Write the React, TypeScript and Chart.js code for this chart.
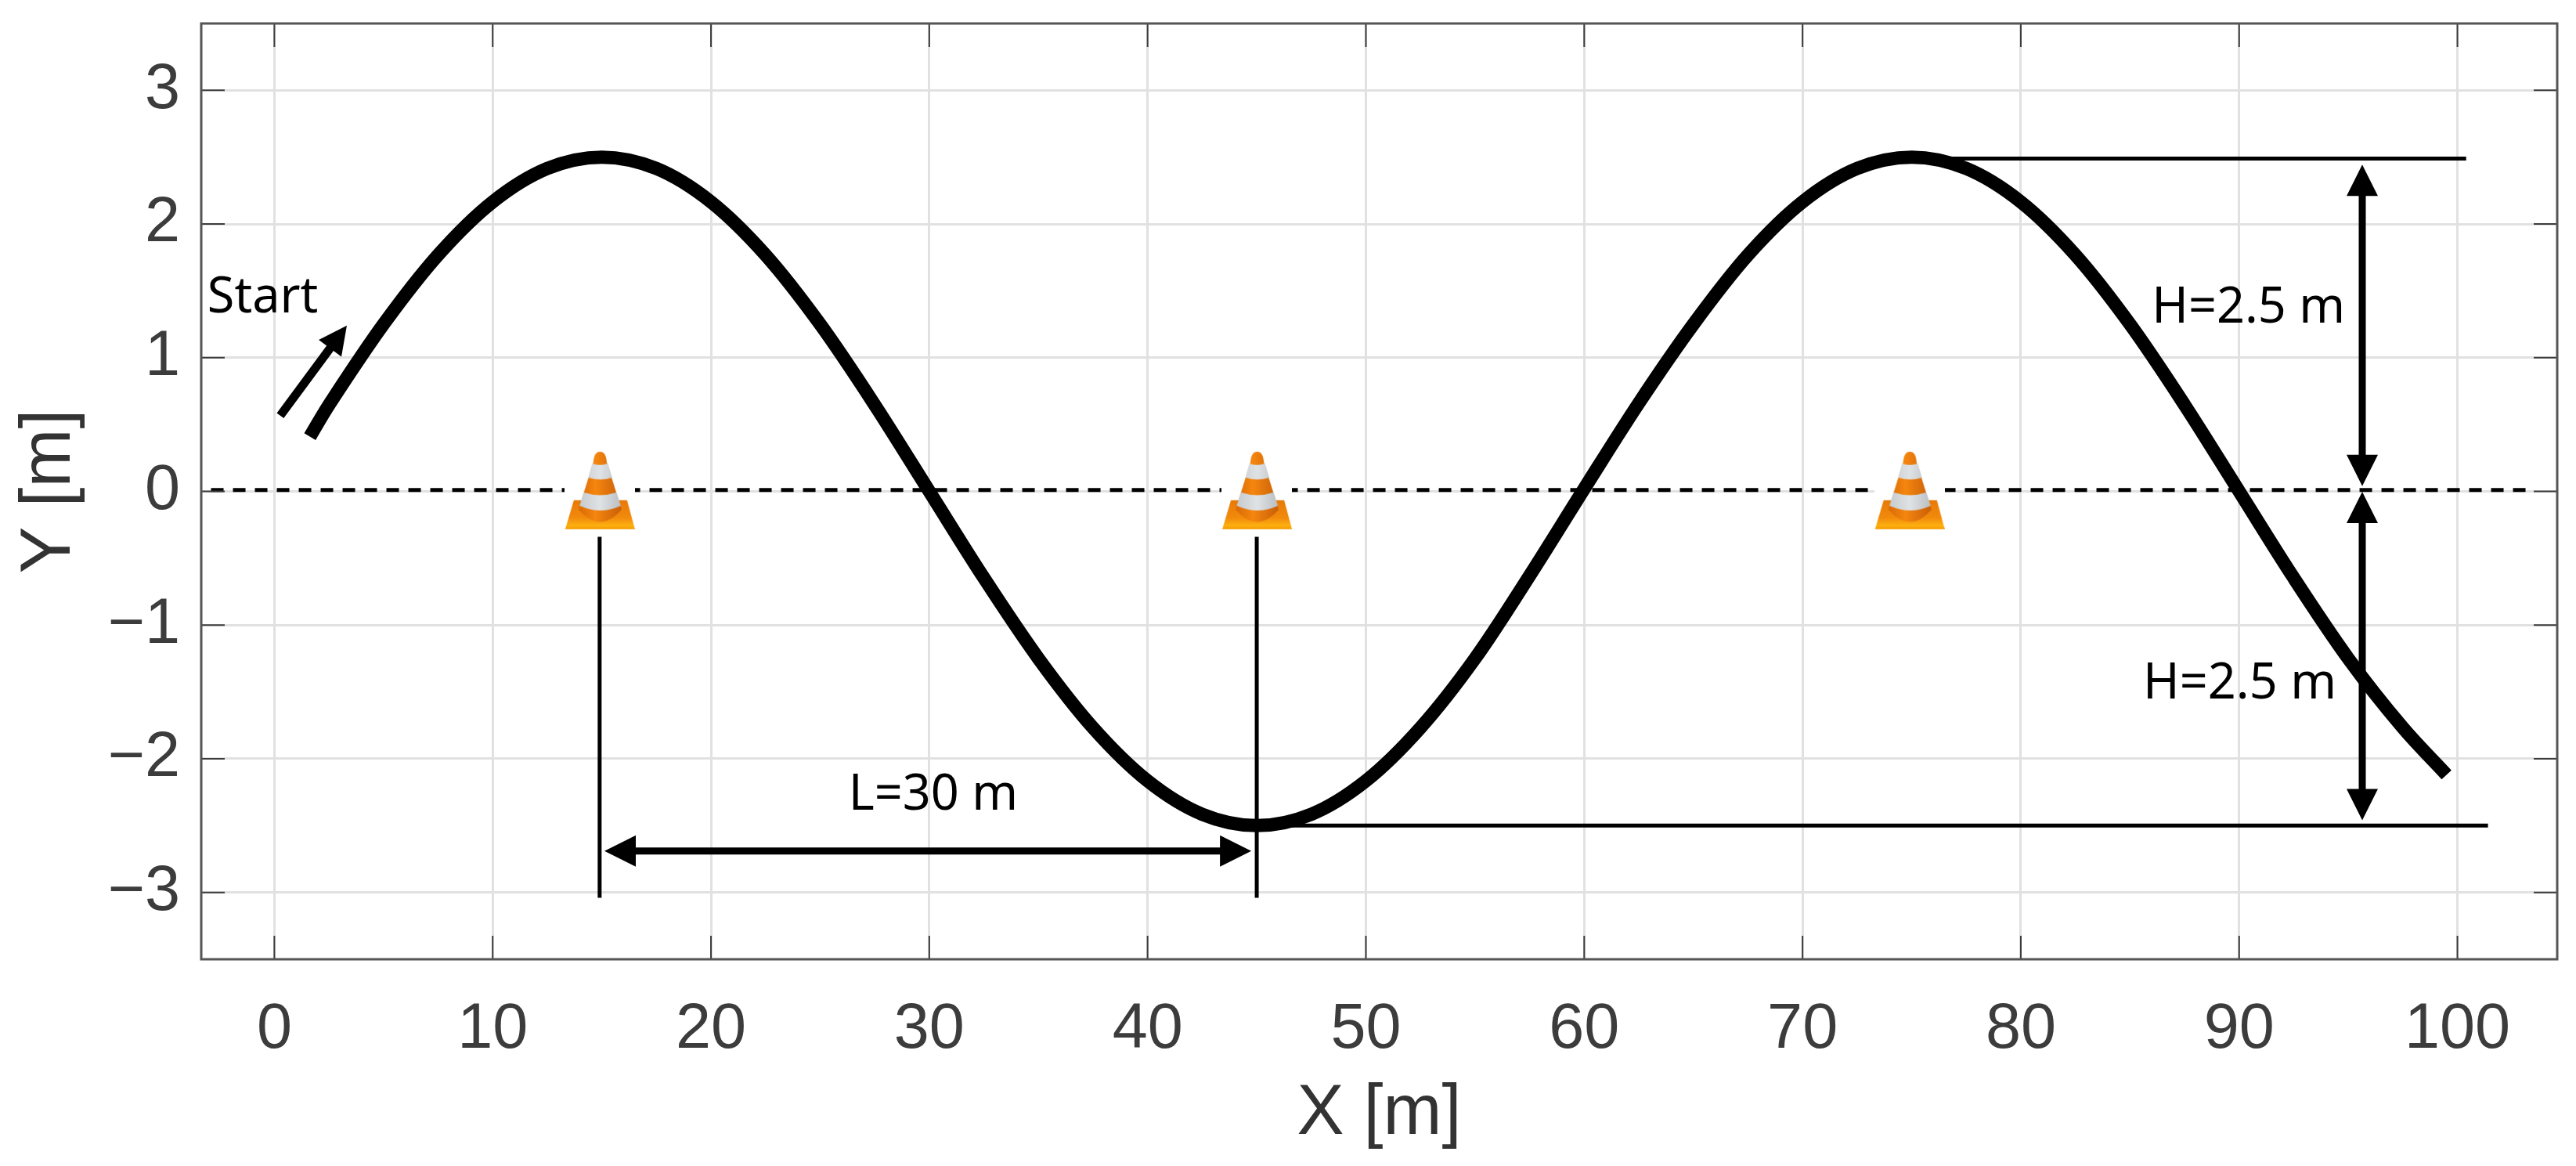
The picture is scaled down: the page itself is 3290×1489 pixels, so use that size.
import React, { useEffect, useRef } from "react";
import { Chart, registerables } from "chart.js";

Chart.register(...registerables);

const pathX = [1.63, 2.5, 5, 7.5, 10, 12.5, 15, 17.5, 20, 22.5, 25, 27.5, 30, 32.5, 35, 37.5, 40, 42.5, 45, 47.5, 50, 52.5, 55, 57.5, 60, 62.5, 65, 67.5, 70, 72.5, 75, 77.5, 80, 82.5, 85, 87.5, 90, 92.5, 95, 97.5, 99.5];
const pathY = [0.41, 0.647, 1.25, 1.768, 2.165, 2.415, 2.5, 2.415, 2.165, 1.768, 1.25, 0.647, 0, -0.647, -1.25, -1.768, -2.165, -2.415, -2.5, -2.415, -2.165, -1.768, -1.25, -0.63, 0.02, 0.66, 1.25, 1.768, 2.165, 2.415, 2.5, 2.415, 2.165, 1.768, 1.25, 0.647, 0, -0.647, -1.25, -1.768, -2.12];

const xTicks = [0, 10, 20, 30, 40, 50, 60, 70, 80, 90, 100];
const yTicks = [-3, -2, -1, 0, 1, 2, 3];

const centerLineX = [-2.9, 103.2];
const centerLineY = [0.01, 0.01];
const coneX = [14.9, 45, 74.9];
const coneY = [0.01, 0.01, 0.01];

const leftGuideX = [14.9, 14.9];
const rightGuideX = [45, 45];
const guideY = [-0.34, -3.04];
const upperGuideX = [75, 100.4];
const upperGuideY = [2.49, 2.49];
const lowerGuideX = [45, 101.4];
const lowerGuideY = [-2.5, -2.5];

const arrowFromX = [15.12, 95.64, 95.64, 0.27];
const arrowFromY = [-2.69, 0.04, -0.003, 0.567];
const arrowToX = [44.75, 95.64, 95.64, 3.32];
const arrowToY = [-2.69, 2.444, -2.46, 1.24];
const arrowBothEnds = [true, true, true, false];

const noteTexts = ["Start", "L=30 m", "H=2.5 m", "H=2.5 m"];
const noteX = [-3.07, 26.3, 86.0, 85.6];
const noteY = [1.34, -2.38, 1.26, -1.55];

const toPoints = (xs: number[], ys: number[]) => xs.map((x, i) => ({ x, y: ys[i] }));

function makeCone() {
  const c = document.createElement("canvas");
  c.width = 90;
  c.height = 104;
  const g = c.getContext("2d") as CanvasRenderingContext2D;
  g.fillStyle = "#fff";
  g.fillRect(0, 0, 90, 104);
  g.translate(-20, -8);
  const base = g.createLinearGradient(0, 73, 0, 110);
  base.addColorStop(0, "#e87a08");
  base.addColorStop(0.6, "#f28a0c");
  base.addColorStop(0.88, "#fdb010");
  base.addColorStop(1, "#f59a00");
  g.fillStyle = base;
  g.beginPath();
  g.moveTo(32, 73);
  g.lineTo(100, 73);
  g.lineTo(110, 110);
  g.lineTo(21, 110);
  g.closePath();
  g.fill();
  const body = g.createLinearGradient(38, 0, 93, 0);
  body.addColorStop(0, "#d96a05");
  body.addColorStop(0.4, "#f5860f");
  body.addColorStop(1, "#c85f08");
  g.fillStyle = body;
  g.beginPath();
  g.moveTo(57, 24);
  g.quadraticCurveTo(58, 11, 65.5, 11);
  g.quadraticCurveTo(73, 11, 74, 24);
  g.lineTo(93, 85);
  g.quadraticCurveTo(66, 116, 38, 85);
  g.closePath();
  g.fill();
  const stripe = g.createLinearGradient(38, 0, 93, 0);
  stripe.addColorStop(0, "#c5cacd");
  stripe.addColorStop(0.5, "#e0e3e5");
  stripe.addColorStop(1, "#b9bec2");
  g.fillStyle = stripe;
  g.beginPath();
  g.moveTo(55.5, 26);
  g.quadraticCurveTo(65, 30, 75.5, 26);
  g.lineTo(81, 44);
  g.quadraticCurveTo(66, 49, 50.5, 44);
  g.closePath();
  g.fill();
  g.beginPath();
  g.moveTo(44.5, 63);
  g.quadraticCurveTo(66, 70, 86.5, 63);
  g.lineTo(92, 80);
  g.quadraticCurveTo(66, 92, 39.5, 80);
  g.closePath();
  g.fill();
  return c;
}

function arrowHead(ctx: any, tipX: number, tipY: number, a: number, head: number, half: number) {
  ctx.beginPath();
  ctx.moveTo(tipX, tipY);
  ctx.lineTo(tipX - Math.cos(a) * head - Math.sin(a) * half, tipY - Math.sin(a) * head + Math.cos(a) * half);
  ctx.lineTo(tipX - Math.cos(a) * head + Math.sin(a) * half, tipY - Math.sin(a) * head - Math.cos(a) * half);
  ctx.closePath();
  ctx.fill();
}

const overlay = {
  id: "overlay",
  afterDatasetsDraw(chart: any) {
    const { ctx, scales, chartArea } = chart;
    const sx = scales.x;
    const sy = scales.y;
    ctx.save();
    ctx.strokeStyle = "#3c3c3c";
    ctx.lineWidth = 2;
    ctx.beginPath();
    xTicks.forEach((v) => {
      const p = sx.getPixelForValue(v);
      ctx.moveTo(p, chartArea.top);
      ctx.lineTo(p, chartArea.top + 30);
      ctx.moveTo(p, chartArea.bottom);
      ctx.lineTo(p, chartArea.bottom - 30);
    });
    yTicks.forEach((v) => {
      const p = sy.getPixelForValue(v);
      ctx.moveTo(chartArea.left, p);
      ctx.lineTo(chartArea.left + 30, p);
      ctx.moveTo(chartArea.right, p);
      ctx.lineTo(chartArea.right - 30, p);
    });
    ctx.stroke();
    ctx.strokeStyle = "#555555";
    ctx.lineWidth = 3;
    ctx.strokeRect(chartArea.left, chartArea.top, chartArea.right - chartArea.left, chartArea.bottom - chartArea.top);

    ctx.strokeStyle = "#000";
    ctx.fillStyle = "#000";
    arrowFromX.forEach((fx, i) => {
      const x0 = sx.getPixelForValue(fx);
      const y0 = sy.getPixelForValue(arrowFromY[i]);
      const x1 = sx.getPixelForValue(arrowToX[i]);
      const y1 = sy.getPixelForValue(arrowToY[i]);
      const a = Math.atan2(y1 - y0, x1 - x0);
      const both = arrowBothEnds[i];
      const head = both ? 40 : 36;
      const half = both ? 20 : 18;
      const c = Math.cos(a) * (head - 4);
      const s = Math.sin(a) * (head - 4);
      ctx.lineWidth = both ? 9 : 11;
      ctx.beginPath();
      ctx.moveTo(both ? x0 + c : x0, both ? y0 + s : y0);
      ctx.lineTo(x1 - c, y1 - s);
      ctx.stroke();
      arrowHead(ctx, x1, y1, a, head, half);
      if (both) arrowHead(ctx, x0, y0, a + Math.PI, head, half);
    });

    ctx.textAlign = "left";
    ctx.textBaseline = "alphabetic";
    ctx.font = '63px "Noto Sans"';
    noteTexts.forEach((t, i) => {
      ctx.fillText(t, sx.getPixelForValue(noteX[i]), sy.getPixelForValue(noteY[i]));
    });
    ctx.restore();
  },
};

const noPad = (s: any) => {
  s.paddingTop = 0;
  s.paddingBottom = 0;
  s.paddingLeft = 0;
  s.paddingRight = 0;
};

export default function App() {
  const ref = useRef<HTMLCanvasElement | null>(null);
  useEffect(() => {
    document.body.style.margin = "0";
    const cone = makeCone();
    const guide = { borderColor: "#000", borderWidth: 5, pointRadius: 0, tension: 0 };
    const chart = new Chart(ref.current as HTMLCanvasElement, {
      type: "line",
      data: {
        datasets: [
          { data: toPoints(pathX, pathY), borderColor: "#000", borderWidth: 17, pointRadius: 0, tension: 0.33, borderCapStyle: "butt", borderJoinStyle: "round" },
          { data: toPoints(coneX, coneY), showLine: false, pointStyle: cone as any, pointRadius: 45, clip: false as any },
          { data: toPoints(leftGuideX, guideY), ...guide },
          { data: toPoints(rightGuideX, guideY), ...guide },
          { data: toPoints(upperGuideX, upperGuideY), ...guide },
          { data: toPoints(lowerGuideX, lowerGuideY), ...guide },
          { data: toPoints(centerLineX, centerLineY), borderColor: "#000", borderWidth: 5, borderDash: [16, 12], pointRadius: 0 },
        ] as any,
      },
      options: {
        responsive: false,
        animation: false,
        devicePixelRatio: 1,
        layout: { autoPadding: false, padding: { top: 30, right: 24, left: 0, bottom: 0 } },
        plugins: { legend: { display: false }, tooltip: { enabled: false } },
        scales: {
          x: {
            type: "linear",
            min: -3.35,
            max: 104.57,
            afterBuildTicks: (s: any) => { s.ticks = xTicks.map((value) => ({ value })); },
            afterFit: (s: any) => { s.height = 264; noPad(s); },
            grid: { color: "#e1e1e1", lineWidth: 3, drawTicks: false },
            border: { display: false },
            ticks: { autoSkip: false, maxRotation: 0, padding: 42, color: "#3c3c3c", font: { family: '"Liberation Sans"', size: 81 } },
            title: { display: true, text: "X [m]", color: "#333333", padding: { top: 10, bottom: 12 }, font: { family: '"Liberation Sans"', size: 90 } },
          },
          y: {
            type: "linear",
            min: -3.5,
            max: 3.5,
            afterBuildTicks: (s: any) => { s.ticks = yTicks.map((value) => ({ value })); },
            afterFit: (s: any) => { s.width = 257; noPad(s); },
            grid: { color: "#e1e1e1", lineWidth: 3, drawTicks: false },
            border: { display: false },
            ticks: {
              autoSkip: false,
              padding: 27,
              color: "#3c3c3c",
              font: { family: '"Liberation Sans"', size: 81 },
              callback: (v: any) => (Number(v) < 0 ? "\u2212" + Math.abs(Number(v)) : String(v)),
            },
            title: { display: true, text: "Y [m]", color: "#333333", padding: { top: 10, bottom: 10 }, font: { family: '"Liberation Sans"', size: 90 } },
          },
        },
      },
      plugins: [overlay],
    } as any);
    return () => chart.destroy();
  }, []);
  return (
    <div>
      <canvas ref={ref} width={3290} height={1489} style={{ display: "block", width: 3290, height: 1489 }} />
    </div>
  );
}
